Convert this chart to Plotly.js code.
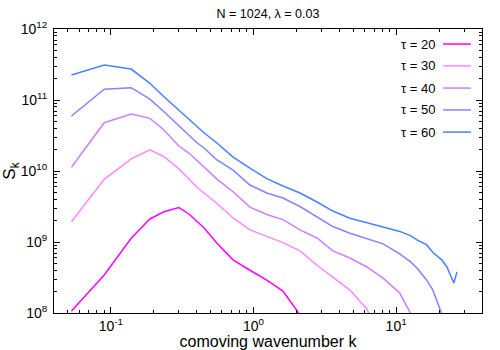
<!DOCTYPE html>
<html>
<head>
<meta charset="utf-8">
<script src="https://cdn.plot.ly/plotly-3.0.1.min.js"></script>
<style>
  html, body { margin: 0; padding: 0; background: #fff; }
  #myDiv { width: 500px; height: 350px; }
</style>
</head>
<body>
<div id="myDiv"></div>
<script>
// spectra S_k, one k list per curve
var k20 = [0.053, 0.09, 0.139, 0.188, 0.236, 0.30, 0.353, 0.40, 0.45, 0.555, 0.72, 0.945, 1.24, 1.61, 2.12];
var s20 = [1.07e8, 3.43e8, 1.13e9, 2.11e9, 2.67e9, 3.06e9, 2.48e9, 1.98e9, 1.59e9, 9.6e8, 5.6e8, 4.0e8, 2.9e8, 2.04e8, 9.4e7];

var k30 = [0.053, 0.09, 0.139, 0.188, 0.236, 0.30, 0.353, 0.40, 0.45, 0.555, 0.72, 0.945, 1.24, 1.61, 2.12, 2.79, 3.6, 4.75, 6.24, 6.55];
var s30 = [1.93e9, 7.64e9, 1.48e10, 1.98e10, 1.59e10, 1.07e10, 7.7e9, 5.95e9, 4.9e9, 3.49e9, 2.18e9, 1.48e9, 1.2e9, 9.8e8, 7.5e8, 4.7e8, 3.2e8, 2.1e8, 1.14e8, 9.1e7];

var k40 = [0.053, 0.09, 0.139, 0.188, 0.236, 0.30, 0.353, 0.40, 0.45, 0.555, 0.72, 0.945, 1.24, 1.61, 2.12, 2.79, 3.6, 4.75, 6.24, 8.1, 10.6, 12.7];
var s40 = [1.13e10, 4.79e10, 6.35e10, 5.52e10, 3.78e10, 2.25e10, 1.79e10, 1.43e10, 1.14e10, 7.7e9, 5.1e9, 3.1e9, 2.44e9, 2.07e9, 1.48e9, 1.14e9, 7.5e8, 5.95e8, 4.45e8, 3.1e8, 1.91e8, 9.7e7];

var k50 = [0.053, 0.09, 0.139, 0.188, 0.236, 0.30, 0.353, 0.40, 0.45, 0.555, 0.72, 0.945, 1.24, 1.61, 2.12, 2.79, 3.6, 4.75, 6.24, 8.1, 10.6, 12.7, 14.0, 16.4, 18.1, 20.9];
var s50 = [5.95e10, 1.42e11, 1.49e11, 1.03e11, 6.84e10, 4.3e10, 3.11e10, 2.52e10, 2.11e10, 1.43e10, 1.03e10, 6.35e9, 4.9e9, 4.17e9, 3.16e9, 2.25e9, 1.65e9, 1.33e9, 1.1e9, 9.4e8, 6.8e8, 5.2e8, 4.3e8, 2.9e8, 2.1e8, 9.7e7];

var k60 = [0.053, 0.09, 0.139, 0.188, 0.236, 0.30, 0.353, 0.40, 0.45, 0.555, 0.72, 0.945, 1.24, 1.61, 2.12, 2.79, 3.6, 4.75, 6.24, 8.1, 10.6, 12.7, 14.0, 16.4, 18.1, 20.9, 22.7, 24.2, 25.4, 26.7];
var s60 = [2.25e11, 3.11e11, 2.73e11, 1.72e11, 1.11e11, 7.2e10, 5.2e10, 4.17e10, 3.46e10, 2.48e10, 1.57e10, 1.1e10, 7.8e9, 6.15e9, 4.9e9, 3.66e9, 2.73e9, 2.16e9, 1.85e9, 1.63e9, 1.41e9, 1.22e9, 1.07e9, 9.1e8, 7.1e8, 5.6e8, 4.45e8, 3.3e8, 2.65e8, 3.8e8];

var names = ['τ = 20', 'τ = 30', 'τ = 40', 'τ = 50', 'τ = 60'];
var colors = ['#ff00ff', '#ff88ff', '#cc80ff', '#8484ff', '#4a80ff'];
var ks = [k20, k30, k40, k50, k60];
var ss = [s20, s30, s40, s50, s60];

var xTickVals = [0.1, 1, 10];
var xTickText = ['10<sup>-1</sup>', '10<sup>0</sup>', '10<sup>1</sup>'];
var yTickVals = [1e8, 1e9, 1e10, 1e11, 1e12];
var yTickText = ['10<sup>8</sup>', '10<sup>9</sup>', '10<sup>10</sup>', '10<sup>11</sup>', '10<sup>12</sup>'];

var data = [];
for (let i = 0; i < names.length; i++) {
  data.push({
    x: ks[i],
    y: ss[i],
    mode: 'lines',
    type: 'scatter',
    name: names[i],
    line: {color: colors[i], width: 1.5},
    showlegend: false
  });
}

// gnuplot style key: text on the left, sample line on the right
var annotations = [];
var shapes = [];
var rowY = [0.947, 0.870, 0.792, 0.715, 0.637];
for (let i = 0; i < names.length; i++) {
  annotations.push({
    text: names[i], xref: 'paper', yref: 'paper',
    x: 0.895, y: rowY[i], xanchor: 'right', yanchor: 'middle',
    showarrow: false, font: {size: 13, color: '#000'}
  });
  shapes.push({
    type: 'line', xref: 'paper', yref: 'paper',
    x0: 0.909, x1: 0.974, y0: rowY[i], y1: rowY[i],
    line: {color: colors[i], width: 1.5}
  });
}

var axisStyle = {
  type: 'log',
  showline: true,
  linecolor: '#000',
  linewidth: 1,
  mirror: 'ticks',
  ticks: 'inside',
  ticklen: 6,
  tickcolor: '#000',
  showgrid: false,
  zeroline: false,
  tickmode: 'array',
  tickfont: {size: 14, color: '#000'},
  minor: {ticks: 'inside', ticklen: 3, tickcolor: '#000', dtick: 'D1', showgrid: false}
};

var layout = {
  width: 500,
  height: 350,
  margin: {l: 54, r: 18, t: 29, b: 37},
  paper_bgcolor: '#fff',
  plot_bgcolor: '#fff',
  font: {family: 'Liberation Sans, Arial, sans-serif', color: '#000'},
  title: {text: 'N = 1024, λ = 0.03', font: {size: 12.5}, x: 0.536, xanchor: 'center', y: 0.96, yanchor: 'middle'},
  xaxis: Object.assign({}, axisStyle, {
    range: [Math.log10(0.04), Math.log10(40)],
    tickvals: xTickVals,
    ticktext: xTickText,
    title: {text: 'comoving wavenumber k', font: {size: 16}, standoff: 3}
  }),
  yaxis: Object.assign({}, axisStyle, {
    range: [8, 12],
    tickvals: yTickVals,
    ticktext: yTickText,
    ticklabelstandoff: 3,
    title: {text: 'S<sub>k</sub>', font: {size: 17}, standoff: 4}
  }),
  annotations: annotations,
  shapes: shapes,
  showlegend: false
};

Plotly.newPlot('myDiv', data, layout, {displayModeBar: false, staticPlot: true});
</script>
</body>
</html>
